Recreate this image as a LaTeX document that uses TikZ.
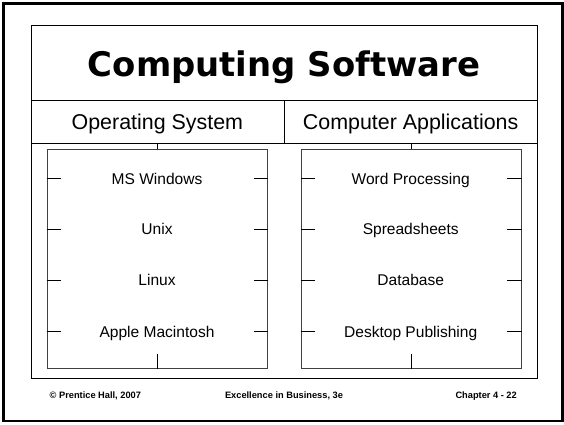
\documentclass[tikz,border=0pt]{standalone}
\usepackage{fontspec}
\setmainfont{Liberation Sans}
\newfontfamily\titlefont{DejaVu Sans}
\begin{document}
\begin{tikzpicture}[x=1bp,y=-1bp,
  boxline/.style={draw=black,line width=1bp},
  subbox/.style={draw=black!75,line width=1bp,inner sep=0pt},
  cell/.style={boxline,inner sep=0pt,anchor=north west},
  txt/.style={draw=none,inner sep=0pt,text depth=0pt},
  item/.style={txt,text height=11.2bp,font=\fontsize{15.6}{18}\selectfont},
  head/.style={txt,text height=15.4bp,font=\fontsize{21.5}{25}\selectfont},
  tick/.style={draw=black,line width=1bp},
  foot/.style={txt,text height=6.7bp,font=\fontsize{9.3}{11}\selectfont\bfseries}]
\useasboundingbox (0,0) rectangle (564,424);
% outer frame
\draw[line width=2.5bp] (3.7,3.7) rectangle (562.3,421);
% main table
\node[cell,minimum width=506.6bp,minimum height=75bp] (titlebox) at (30.7,25) {};
\node[cell,minimum width=253.3bp,minimum height=43bp] (osrow) at (30.7,100) {};
\node[cell,minimum width=253.3bp,minimum height=43bp] (approw) at (284,100) {};
\node[cell,minimum width=506.6bp,minimum height=234.7bp] (body) at (30.7,143) {};
\node[txt,text height=24.8bp,font=\titlefont\bfseries\fontsize{34}{40}\selectfont] (title) at (284,64.5) {Computing Software};
\node[head] (os) at (157.35,122) {Operating System};
\node[head] (apps) at (410.65,122) {Computer Applications};
% sub boxes
\node[subbox,anchor=north west,minimum width=220.6bp,minimum height=218.7bp] (osbox) at (46.7,149.3) {};
\node[subbox,anchor=north west,minimum width=220bp,minimum height=218.7bp] (appbox) at (300.7,149.3) {};
% items
\node[item] (ms) at (157,178.7) {MS Windows};
\node[item] (unix) at (157,229.3) {Unix};
\node[item] (linux) at (157,280) {Linux};
\node[item] (mac) at (157,331.7) {Apple Macintosh};
\node[item] (word) at (410.7,178.7) {Word Processing};
\node[item] (spread) at (410.7,229.3) {Spreadsheets};
\node[item] (db) at (410.7,280) {Database};
\node[item] (dtp) at (410.7,331.7) {Desktop Publishing};
% connectors
\draw[tick] (osrow.south -| osbox.north) -- (osbox.north);
\draw[tick] (approw.south -| appbox.north) -- (appbox.north);
\draw[tick] (osbox.south) -- ++(0,-15);
\draw[tick] (appbox.south) -- ++(0,-15);
\foreach \n in {ms,unix,linux,mac}{
  \draw[tick] (osbox.west |- \n.center) -- ++(14.5,0);
  \draw[tick] (osbox.east |- \n.center) -- ++(-14.5,0);
}
\foreach \n in {word,spread,db,dtp}{
  \draw[tick] (appbox.west |- \n.center) -- ++(14.5,0);
  \draw[tick] (appbox.east |- \n.center) -- ++(-14.5,0);
}
% footer
\node[foot,anchor=west] (f1) at (49.5,395) {© Prentice Hall, 2007};
\node[foot] (f2) at (284,395) {Excellence in Business, 3e};
\node[foot,anchor=east] (f3) at (517,395) {Chapter 4 - 22};
\end{tikzpicture}
\end{document}
